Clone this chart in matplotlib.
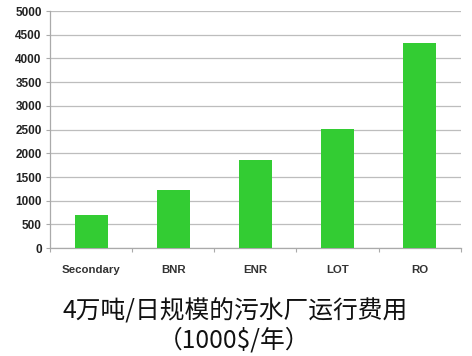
import numpy as np
import matplotlib.pyplot as plt

plt.rcParams['font.family'] = ['Noto Sans CJK SC', 'DejaVu Sans']

categories = ['Secondary', 'BNR', 'ENR', 'LOT', 'RO']
costs = [700, 1220, 1850, 2520, 4320]
yticks = [0, 500, 1000, 1500, 2000, 2500, 3000, 3500, 4000, 4500, 5000]
title_line1 = '4万吨/日规模的污水厂运行费用'
title_line2 = '（1000$/年）'

fig = plt.figure(figsize=(4.72, 3.56), dpi=100)
ax = fig.add_axes([0.106, 0.303, 0.870, 0.666])

x = np.arange(len(categories))
ax.bar(x, costs, width=0.4, color='#33CC33', zorder=3)

ax.set_xlim(-0.5, len(categories) - 0.5)
ax.set_ylim(0, 5000)
ax.set_yticks(yticks)
ax.set_yticklabels([str(v) for v in yticks], fontsize=8.5, fontweight='bold',
                   color='#222222', family=['Liberation Sans', 'DejaVu Sans'])
ax.yaxis.grid(True, color='#bdbdbd', linewidth=0.9, zorder=0)

# category labels centred, ticks on the boundaries
ax.set_xticks(np.arange(len(categories) + 1) - 0.5)
ax.set_xticklabels([])
ax.set_xticks(x, minor=True)
ax.set_xticklabels(categories, minor=True, fontsize=8.2, fontweight='bold',
                   color='#333333', family=['Liberation Sans', 'DejaVu Sans'])
ax.tick_params(axis='x', which='minor', length=0, pad=12)
ax.tick_params(axis='x', which='major', length=3, color='#aaaaaa', direction='out')
ax.tick_params(axis='y', length=3, color='#aaaaaa', pad=3)

for s in ['top', 'right']:
    ax.spines[s].set_visible(False)
for s in ['left', 'bottom']:
    ax.spines[s].set_color('#aaaaaa')
    ax.spines[s].set_linewidth(0.9)

fig.text(0.498, 0.126, title_line1, ha='center', va='center', fontsize=17.8,
         color='#111111')
fig.text(0.495, 0.043, title_line2, ha='center', va='center', fontsize=17.8,
         color='#111111')

plt.savefig('out.png', dpi=100, facecolor='w')
